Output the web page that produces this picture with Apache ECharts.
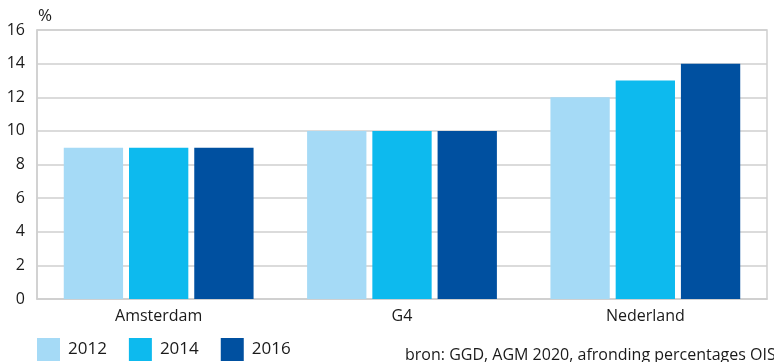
<!DOCTYPE html>
<html>
<head>
<meta charset="utf-8">
<script src="https://cdn.jsdelivr.net/npm/echarts@6/dist/echarts.min.js"></script>
<style>
  html, body { margin: 0; padding: 0; background: #fff; }
  #chart { width: 774px; height: 362px; }
</style>
</head>
<body>
<div id="chart"></div>
<script>
// Regions and survey years
const categories = ['Amsterdam', 'G4', 'Nederland'];
const years = ['2012', '2014', '2016'];
// Percentage per region, one array per year
const values2012 = [9, 10, 12];
const values2014 = [9, 10, 13];
const values2016 = [9, 10, 14];
const yTicks = { min: 0, max: 16, interval: 2 };
const sourceNote = 'bron: GGD, AGM 2020, afronding percentages OIS';

const colors = ['#a5daf6', '#0dbaee', '#0050a0'];
const font = '"Open Sans", "Noto Sans", sans-serif';
const ink = '#1a1a1a';

const chart = echarts.init(document.getElementById('chart'), null, { renderer: 'canvas' });
const seriesValues = [values2012, values2014, values2016];

chart.setOption({
  animation: false,
  textStyle: { fontFamily: font },
  grid: { left: 37, right: 7, top: 30, bottom: 63, show: true, borderColor: '#cfcfcf', borderWidth: 1.5 },
  legend: {
    left: 37, top: 338, padding: 0,
    itemWidth: 23, itemHeight: 23, itemGap: 22,
    icon: 'rect',
    textStyle: { fontSize: 17, color: ink, fontFamily: font, padding: [0, 0, 0, 3] },
    data: years
  },
  xAxis: {
    type: 'category',
    data: categories,
    axisLine: { show: true, lineStyle: { color: '#cfcfcf', width: 1.5 } },
    axisTick: { show: false },
    axisLabel: { fontSize: 16, color: ink, margin: 9 }
  },
  yAxis: {
    type: 'value',
    min: yTicks.min, max: yTicks.max, interval: yTicks.interval,
    name: '%',
    nameLocation: 'end',
    nameGap: 5,
    nameTextStyle: { fontSize: 17, color: ink, align: 'left', padding: [0, 0, 0, 1] },
    axisLine: { show: true, lineStyle: { color: '#cfcfcf', width: 1.5 } },
    axisTick: { show: false },
    splitLine: { lineStyle: { color: '#cfcfcf', width: 1.5 } },
    axisLabel: { fontSize: 16, color: ink, margin: 12 }
  },
  series: years.map((y, i) => ({
    name: y,
    type: 'bar',
    data: seriesValues[i],
    itemStyle: { color: colors[i] },
    barGap: '10%',
    barCategoryGap: '22%'
  })),
  graphic: [{
    type: 'text',
    left: 405, top: 347,
    style: { text: sourceNote, font: '16px ' + font, fill: ink }
  }]
});
</script>
</body>
</html>
